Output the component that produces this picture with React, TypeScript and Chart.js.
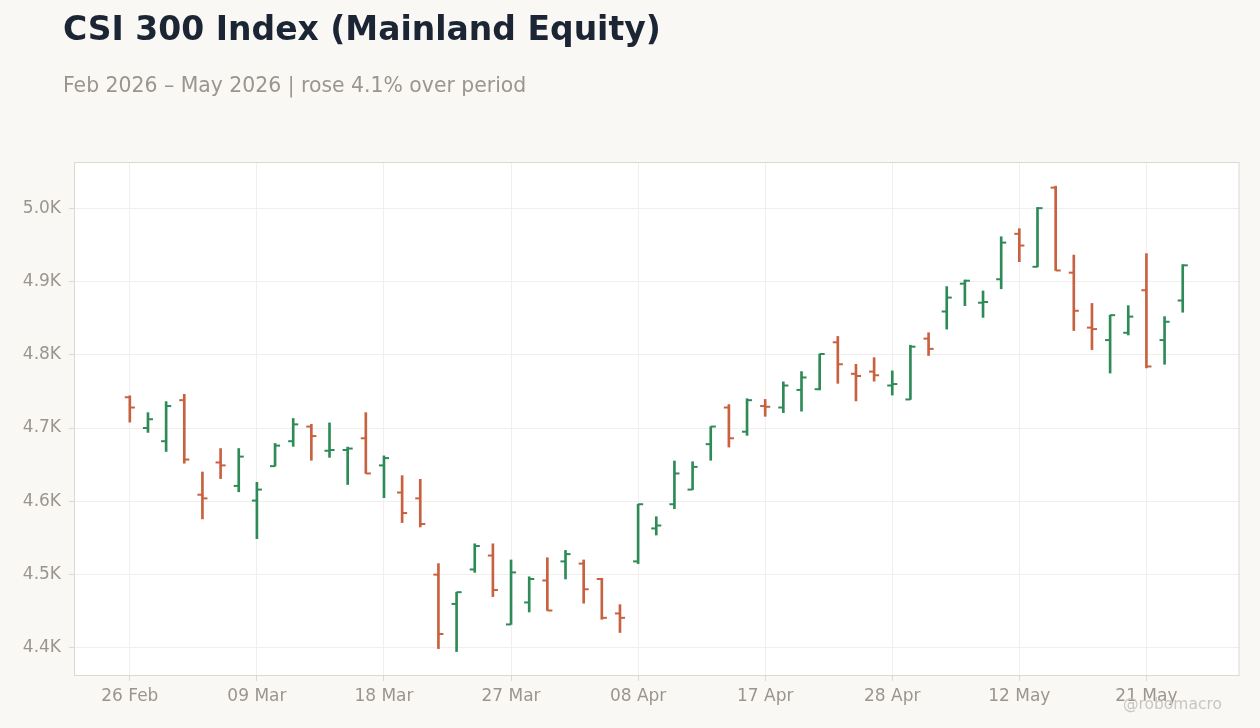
import { useEffect, useRef } from 'react';
import Chart from 'chart.js/auto';

// trading days, Feb - May 2026
const dates = [
  '26 Feb', '27 Feb', '02 Mar', '03 Mar', '04 Mar', '05 Mar', '06 Mar', '09 Mar', '10 Mar', '11 Mar',
  '12 Mar', '13 Mar', '16 Mar', '17 Mar', '18 Mar', '19 Mar', '20 Mar', '23 Mar', '24 Mar', '25 Mar',
  '26 Mar', '27 Mar', '30 Mar', '31 Mar', '01 Apr', '02 Apr', '03 Apr', '07 Apr', '08 Apr', '09 Apr',
  '10 Apr', '13 Apr', '14 Apr', '15 Apr', '16 Apr', '17 Apr', '20 Apr', '21 Apr', '22 Apr', '23 Apr',
  '24 Apr', '27 Apr', '28 Apr', '29 Apr', '30 Apr', '06 May', '07 May', '08 May', '11 May', '12 May',
  '13 May', '14 May', '15 May', '18 May', '19 May', '20 May', '21 May', '22 May', '25 May',
];

const opens = [
  4742, 4700, 4682, 4738, 4609, 4653, 4621, 4601, 4648, 4682,
  4702, 4669, 4670, 4686, 4649, 4612, 4604, 4500, 4460, 4507,
  4526, 4432, 4462, 4492, 4518, 4515, 4494, 4447, 4518, 4563,
  4596, 4616, 4678, 4728, 4695, 4730, 4728, 4752, 4753, 4817,
  4774, 4777, 4758, 4739, 4822, 4859, 4897, 4871, 4903, 4965,
  4920, 5028, 4912, 4837, 4820, 4830, 4888, 4820, 4874,
];
const highs = [
  4744, 4721, 4736, 4746, 4640, 4672, 4672, 4626, 4679, 4713,
  4705, 4707, 4674, 4721, 4662, 4635, 4630, 4515, 4476, 4542,
  4542, 4520, 4497, 4523, 4533, 4520, 4495, 4459, 4596, 4579,
  4655, 4654, 4702, 4732, 4740, 4739, 4763, 4777, 4801, 4825,
  4787, 4796, 4778, 4813, 4830, 4893, 4902, 4887, 4961, 4972,
  5001, 5030, 4936, 4870, 4854, 4867, 4938, 4852, 4923,
];
const lows = [
  4708, 4694, 4668, 4652, 4576, 4631, 4613, 4549, 4648, 4675,
  4656, 4660, 4623, 4638, 4605, 4571, 4565, 4399, 4395, 4503,
  4470, 4432, 4449, 4451, 4494, 4461, 4439, 4421, 4515, 4554,
  4590, 4616, 4656, 4674, 4690, 4716, 4721, 4723, 4752, 4761,
  4737, 4764, 4745, 4739, 4799, 4835, 4867, 4851, 4890, 4927,
  4920, 4915, 4833, 4807, 4775, 4827, 4782, 4787, 4858,
];
const closes = [
  4728, 4712, 4730, 4657, 4604, 4649, 4661, 4616, 4676, 4705,
  4689, 4670, 4672, 4638, 4659, 4584, 4569, 4419, 4476, 4539,
  4479, 4503, 4494, 4451, 4528, 4480, 4441, 4441, 4596, 4567,
  4638, 4647, 4702, 4686, 4738, 4729, 4758, 4769, 4801, 4787,
  4771, 4772, 4760, 4811, 4808, 4878, 4901, 4872, 4953, 4949,
  5000, 4915, 4860, 4835, 4854, 4852, 4784, 4845, 4922,
];

const xTicks = [0, 7, 14, 21, 28, 35, 42, 49, 56];
const yTicks = [4400, 4500, 4600, 4700, 4800, 4900, 5000];

const UP = '#2e8b57';
const DOWN = '#c8613f';
const FONT = "'DejaVu Sans', sans-serif";
const TICK_COLOR = '#9b958e';
const FRAME = '#ddd8d1';
const GRID = '#f0efed';

const plotFrame = {
  id: 'plotFrame',
  beforeDraw(chart: any) {
    const { ctx, chartArea: a } = chart;
    ctx.save();
    ctx.fillStyle = '#ffffff';
    ctx.fillRect(a.left, a.top, a.right - a.left, a.bottom - a.top);
    ctx.restore();
  },
  afterDraw(chart: any) {
    const { ctx, chartArea: a } = chart;
    ctx.save();
    ctx.strokeStyle = FRAME;
    ctx.lineWidth = 1;
    ctx.strokeRect(a.left - 0.5, a.top + 0.5, a.right - a.left + 0.5, a.bottom - a.top);
    ctx.restore();
  },
};

function OhlcChart() {
  const canvasRef = useRef<HTMLCanvasElement>(null);

  useEffect(() => {
    if (!canvasRef.current) return;
    const colors = opens.map((o, i) => (closes[i] >= o ? UP : DOWN));
    const tickOffset = 0.14;

    const chart = new Chart(canvasRef.current, {
      type: 'bar',
      data: {
        datasets: [
          {
            type: 'bar',
            data: dates.map((_, i) => ({ x: i, y: [lows[i], highs[i]] })) as any,
            backgroundColor: colors,
            borderWidth: 0,
            barThickness: 2,
            order: 2,
          },
          {
            type: 'scatter',
            data: opens.map((o, i) => ({ x: i - tickOffset, y: o })),
            pointStyle: 'line',
            pointRadius: 2.5,
            pointBorderWidth: 2,
            pointBorderColor: colors,
            order: 1,
          } as any,
          {
            type: 'scatter',
            data: closes.map((c, i) => ({ x: i + tickOffset, y: c })),
            pointStyle: 'line',
            pointRadius: 2.5,
            pointBorderWidth: 2,
            pointBorderColor: colors,
            order: 1,
          } as any,
        ],
      },
      options: {
        animation: false,
        responsive: true,
        maintainAspectRatio: false,
        layout: { padding: { top: 162, right: 21, left: 0, bottom: 0 } },
        plugins: {
          legend: { display: false },
          tooltip: { enabled: false },
          title: { display: false },
        },
        scales: {
          x: {
            type: 'linear',
            min: -3.02,
            max: 61.1,
            offset: false,
            afterBuildTicks: (scale: any) => {
              scale.ticks = xTicks.map((v) => ({ value: v }));
            },
            afterFit: (scale: any) => {
              scale.height = 53;
            },
            grid: { color: GRID, tickColor: FRAME, tickLength: 6, offset: false },
            border: { display: false },
            ticks: {
              color: TICK_COLOR,
              font: { family: FONT, size: 17 },
              padding: 5,
              maxRotation: 0,
              autoSkip: false,
              callback: (v: any) => dates[v] ?? '',
            },
          },
          y: {
            min: 4363,
            max: 5063,
            afterBuildTicks: (scale: any) => {
              scale.ticks = yTicks.map((v) => ({ value: v }));
            },
            afterFit: (scale: any) => {
              scale.width = 75;
            },
            grid: { color: GRID, tickColor: FRAME, tickLength: 6 },
            border: { display: false },
            ticks: {
              color: TICK_COLOR,
              font: { family: FONT, size: 17 },
              padding: 8,
              callback: (v: any) => (Number(v) / 1000).toFixed(1) + 'K',
            },
          },
        },
      },
      plugins: [plotFrame],
    });

    return () => chart.destroy();
  }, []);

  return <canvas ref={canvasRef} />;
}

export default function App() {
  return (
    <div
      style={{
        position: 'fixed',
        left: 0,
        top: 0,
        width: 1260,
        height: 728,
        background: '#f9f8f5',
        fontFamily: FONT,
        overflow: 'hidden',
      }}
    >
      <div style={{ position: 'absolute', left: 0, top: 0, width: 1260, height: 728 }}>
        <OhlcChart />
      </div>
      <div
        style={{
          position: 'absolute',
          left: 63,
          top: 9,
          fontSize: 33,
          fontWeight: 'bold',
          color: '#1c2533',
          whiteSpace: 'nowrap',
        }}
      >
        CSI 300 Index (Mainland Equity)
      </div>
      <div
        style={{
          position: 'absolute',
          left: 63,
          top: 73,
          fontSize: 20.4,
          color: '#9b958e',
          whiteSpace: 'nowrap',
        }}
      >
        Feb 2026 – May 2026 | rose 4.1% over period
      </div>
      <div
        style={{
          position: 'absolute',
          right: 38,
          top: 695,
          fontSize: 15.5,
          color: '#c9c5c0',
          whiteSpace: 'nowrap',
        }}
      >
        @robomacro
      </div>
    </div>
  );
}
